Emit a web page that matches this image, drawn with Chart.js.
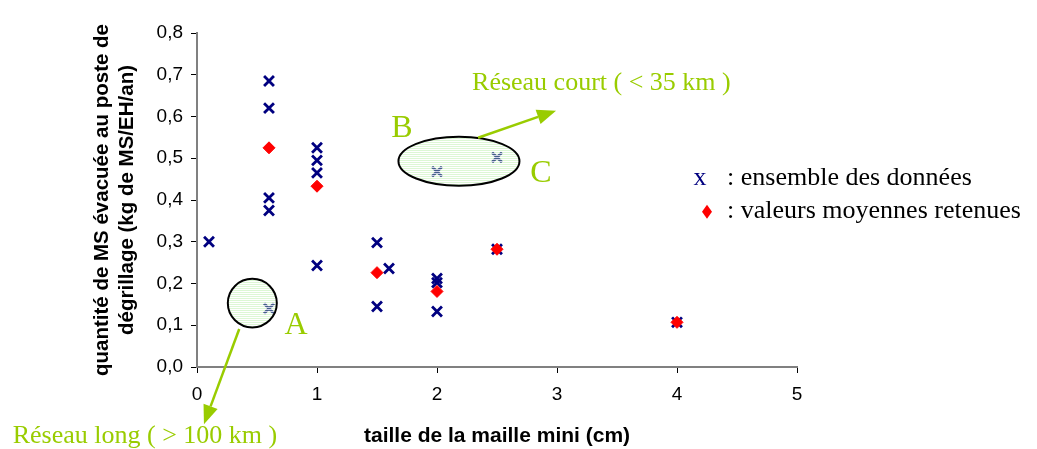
<!DOCTYPE html>
<html>
<head>
<meta charset="utf-8">
<script src="https://cdn.jsdelivr.net/npm/chart.js@4.4.0/dist/chart.umd.min.js"></script>
<style>
  html, body { margin: 0; padding: 0; background: #fff; }
  #wrap { width: 1037px; height: 449px; }
</style>
</head>
<body>
<div id="wrap"><canvas id="chart"></canvas></div>
<script>
// all data points (x = mesh size in cm, y = kg MS/EH/an)
const allX = [0.1, 0.6, 0.6, 0.6, 0.6, 0.6, 1, 1, 1, 1, 1.5, 1.5, 1.6, 2, 2, 2, 2, 2.5, 2.5, 4];
const allY = [0.30, 0.685, 0.62, 0.405, 0.375, 0.14, 0.525, 0.495, 0.465, 0.243, 0.298, 0.145, 0.236, 0.468, 0.212, 0.202, 0.133, 0.502, 0.282, 0.107];

// retained mean values
const meanX = [0.6, 1, 1.5, 2, 2.5, 4];
const meanY = [0.525, 0.433, 0.226, 0.181, 0.282, 0.107];

const xTitle = "taille de la maille mini (cm)";
const yTitle = ["quantité de MS évacuée au poste de", "dégrillage (kg de MS/EH/an)"];

const GREEN = "#99cc00";
const NAVY = "#000080";

// hand-drawn annotations, placed in data units
const ellipses = [
  { x: 0.461, y: 0.153, rx: 24.5, ry: 24.3 },
  { x: 2.183, y: 0.493, rx: 60.5, ry: 24.5 },
];
const arrows = [
  { x1: 0.352, y1: 0.091, x2: 0.058, y2: -0.137 },
  { x1: 2.342, y1: 0.549, x2: 2.992, y2: 0.614 },
];
const notes = [
  { text: "A", x: 0.825, y: 0.079, size: 32, align: "center" },
  { text: "B", x: 1.708, y: 0.550, size: 32, align: "center" },
  { text: "C", x: 2.867, y: 0.444, size: 32, align: "center" },
  { text: "Réseau court ( < 35 km )", x: 2.292, y: 0.663, size: 26, align: "left" },
  { text: "Réseau long ( > 100 km )", x: -1.536, y: -0.182, size: 26, align: "left" },
];

function toPoints(xs, ys) {
  return xs.map((x, i) => ({ x: x, y: ys[i] }));
}

function stripes(ctx) {
  const c = document.createElement("canvas");
  c.width = 4;
  c.height = 2;
  const g = c.getContext("2d");
  g.fillStyle = "rgba(170,235,150,0.4)";
  g.fillRect(0, 0, 4, 1);
  g.fillStyle = "rgba(255,255,255,0.8)";
  g.fillRect(0, 1, 4, 1);
  return ctx.createPattern(c, "repeat");
}

function drawArrow(ctx, x1, y1, x2, y2) {
  const a = Math.atan2(y2 - y1, x2 - x1);
  const len = 19, half = 7.5;
  const bx = x2 - len * Math.cos(a), by = y2 - len * Math.sin(a);
  ctx.beginPath();
  ctx.moveTo(x1, y1);
  ctx.lineTo(bx, by);
  ctx.stroke();
  ctx.beginPath();
  ctx.moveTo(x2, y2);
  ctx.lineTo(bx + half * Math.sin(a), by - half * Math.cos(a));
  ctx.lineTo(bx - half * Math.sin(a), by + half * Math.cos(a));
  ctx.closePath();
  ctx.fill();
}

const annotations = {
  id: "annotations",
  afterDatasetsDraw(chart) {
    const ctx = chart.ctx;
    const sx = chart.scales.x, sy = chart.scales.y;
    const px = (v) => sx.getPixelForValue(v);
    const py = (v) => sy.getPixelForValue(v);
    ctx.save();

    // ellipses (striped fill over the points, black outline)
    for (const e of ellipses) {
      ctx.beginPath();
      ctx.ellipse(px(e.x), py(e.y), e.rx, e.ry, 0, 0, Math.PI * 2);
      ctx.fillStyle = stripes(ctx);
      ctx.fill();
      ctx.lineWidth = 2;
      ctx.strokeStyle = "#000";
      ctx.stroke();
    }

    // arrows
    ctx.strokeStyle = GREEN;
    ctx.fillStyle = GREEN;
    ctx.lineWidth = 2.5;
    for (const a of arrows) {
      drawArrow(ctx, px(a.x1), py(a.y1), px(a.x2), py(a.y2));
    }

    // letters and captions
    ctx.textBaseline = "alphabetic";
    for (const n of notes) {
      ctx.font = n.size + 'px "Liberation Serif", "Times New Roman", serif';
      ctx.textAlign = n.align;
      ctx.fillStyle = GREEN;
      ctx.fillText(n.text, px(n.x), py(n.y));
    }

    // legend
    ctx.font = '26px "Liberation Serif", "Times New Roman", serif';
    ctx.textAlign = "center";
    ctx.fillStyle = NAVY;
    ctx.fillText("x", px(4.192), py(0.437));
    ctx.textAlign = "left";
    ctx.fillStyle = "#000";
    ctx.fillText(": ensemble des données", px(4.417), py(0.437));
    ctx.fillText(": valeurs moyennes retenues", px(4.417), py(0.358));
    const dx = px(4.25), dy = py(0.372);
    ctx.beginPath();
    ctx.moveTo(dx, dy - 7);
    ctx.lineTo(dx + 5, dy);
    ctx.lineTo(dx, dy + 7);
    ctx.lineTo(dx - 5, dy);
    ctx.closePath();
    ctx.fillStyle = "#ff0000";
    ctx.fill();

    ctx.restore();
  },
};

const tickFont = { family: '"Liberation Sans", Arial, sans-serif', size: 19 };
const titleFont = { family: '"Liberation Sans", Arial, sans-serif', size: 20.5, weight: "bold" };

new Chart(document.getElementById("chart"), {
  type: "scatter",
  data: {
    datasets: [
      {
        label: "valeurs moyennes retenues",
        data: toPoints(meanX, meanY),
        pointStyle: "rectRot",
        pointRadius: 6,
        pointBackgroundColor: "#ff0000",
        pointBorderColor: "#ff0000",
        pointBorderWidth: 1,
        order: 0,
      },
      {
        label: "ensemble des données",
        data: toPoints(allX, allY),
        pointStyle: "crossRot",
        pointRadius: 7,
        pointBorderColor: NAVY,
        pointBorderWidth: 2.8,
        order: 1,
      },
    ],
  },
  options: {
    responsive: true,
    maintainAspectRatio: false,
    animation: false,
    layout: { padding: { left: 88, top: 33, right: 240, bottom: 0 } },
    plugins: {
      legend: { display: false },
      tooltip: { enabled: false },
    },
    scales: {
      x: {
        type: "linear",
        min: 0,
        max: 5,
        afterFit: (scale) => { scale.height = 82; },
        ticks: { stepSize: 1, color: "#000", font: tickFont, padding: 10 },
        grid: { drawOnChartArea: false, drawTicks: true, tickLength: 6, color: "#000" },
        border: { color: "#808080", width: 2 },
        title: { display: true, text: xTitle, color: "#000", font: { ...titleFont, size: 21 }, padding: { top: 0, bottom: 0 } },
      },
      y: {
        type: "linear",
        min: 0,
        max: 0.8,
        afterFit: (scale) => { scale.width = 109; },
        ticks: {
          stepSize: 0.1,
          color: "#000",
          font: tickFont,
          padding: 8,
          callback: (v) => v.toFixed(1).replace(".", ","),
        },
        grid: { drawOnChartArea: false, drawTicks: true, tickLength: 6, color: "#000" },
        border: { color: "#808080", width: 2 },
        title: { display: true, text: yTitle, color: "#000", font: titleFont, padding: { top: 2, bottom: 0 } },
      },
    },
  },
  plugins: [annotations],
});
</script>
</body>
</html>
